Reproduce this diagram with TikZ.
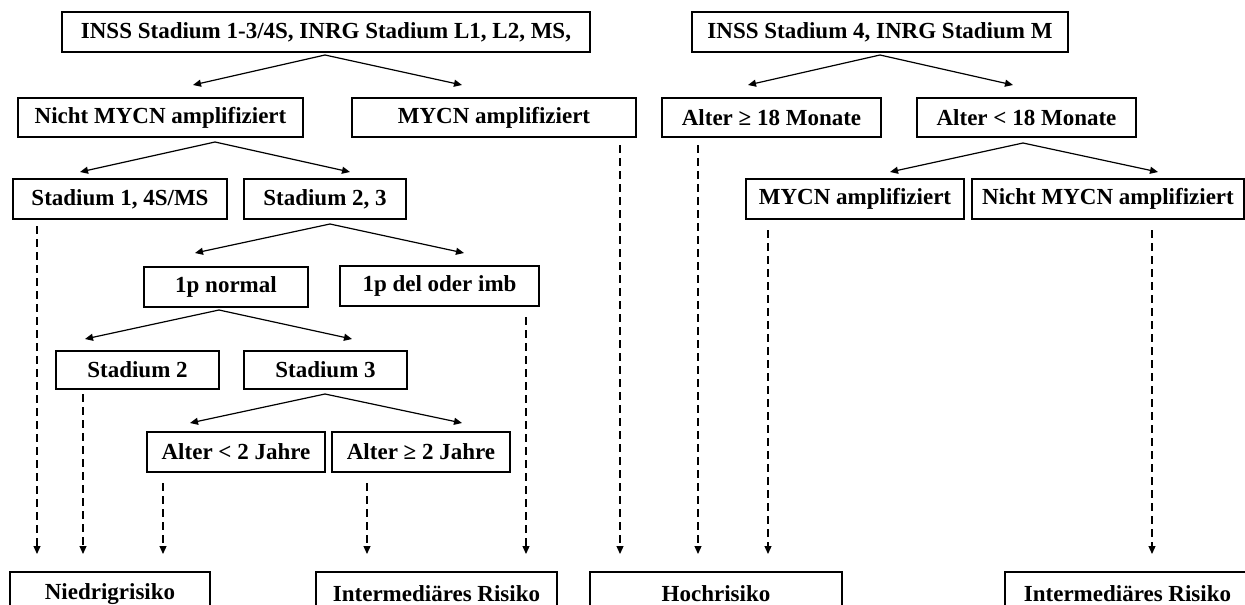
\documentclass[tikz,border=0pt]{standalone}
\usepackage{fontspec}
\setmainfont{Liberation Serif}
\usetikzlibrary{arrows.meta,calc}
\begin{document}
\begin{tikzpicture}[x=1pt,y=-1pt,
 box/.style={draw,line width=1.2pt,inner sep=0pt,font=\bfseries\fontsize{23}{26}\selectfont},
 arr/.style={-{Triangle[length=8pt,width=7pt]},line width=1.2pt},
 darr/.style={arr,dash pattern=on 8pt off 5pt}]
\useasboundingbox (0,0) rectangle (1245,605);
\clip (0,0) rectangle (1245,605);
% level 1
\node[box,minimum width=528pt,minimum height=40pt] (a) at (326,32) {INSS Stadium 1-3/4S, INRG Stadium L1, L2, MS,};
\node[box,minimum width=376pt,minimum height=40pt] (b) at (880,32) {INSS Stadium 4, INRG Stadium M};
% level 2
\node[box,minimum width=285pt,minimum height=39pt] (c) at (160.5,117.5) {Nicht MYCN amplifiziert};
\node[box,minimum width=284pt,minimum height=39pt] (d) at (494,117.5) {MYCN amplifiziert};
\node[box,minimum width=219pt,minimum height=39pt] (e) at (771.5,117.5) {Alter ≥ 18 Monate};
\node[box,minimum width=219pt,minimum height=39pt] (f) at (1026.5,117.5) {Alter < 18 Monate};
% level 3
\node[box,minimum width=214pt,minimum height=40pt] (g) at (120,199) {Stadium 1, 4S/MS};
\node[box,minimum width=162pt,minimum height=40pt] (h) at (325,199) {Stadium 2, 3};
\node[box,minimum width=218pt,minimum height=40pt] (i) at (855,199) {MYCN amplifiziert};
\node[box,minimum width=272pt,minimum height=40pt] (j) at (1108,199) {Nicht MYCN amplifiziert};
% level 4
\node[box,minimum width=164pt,minimum height=40pt] (k) at (226,287) {1p normal};
\node[box,minimum width=199pt,minimum height=40pt] (l) at (439.5,286) {1p del oder imb};
% level 5
\node[box,minimum width=163pt,minimum height=38pt] (m) at (137.5,370) {Stadium 2};
\node[box,minimum width=163pt,minimum height=38pt] (n) at (325.5,370) {Stadium 3};
% level 6
\node[box,minimum width=178pt,minimum height=40pt] (o) at (236,452) {Alter < 2 Jahre};
\node[box,minimum width=178pt,minimum height=40pt] (p) at (421,452) {Alter ≥ 2 Jahre};
% bottom
\node[box,minimum width=200pt,minimum height=44pt] (q) at (110,594) {Niedrigrisiko};
\node[box,minimum width=241pt,minimum height=44pt] (r) at (436.5,594) {Intermediäres Risiko};
\node[box,minimum width=252pt,minimum height=44pt] (s) at (716,594) {Hochrisiko};
\node[box,minimum width=245pt,minimum height=44pt] (t) at (1127.5,594) {Intermediäres Risiko};
% solid arrows
\coordinate (a0) at (325,55); \coordinate (c0) at (193,85); \coordinate (d0) at (462,85);
\draw[arr] (a0) -- (c0); \draw[arr] (a0) -- (d0);
\coordinate (b0) at (880,55); \coordinate (e0) at (748,85); \coordinate (f0) at (1013,85);
\draw[arr] (b0) -- (e0); \draw[arr] (b0) -- (f0);
\coordinate (c1) at (215,142); \coordinate (g0) at (80,172); \coordinate (h0) at (350,172);
\draw[arr] (c1) -- (g0); \draw[arr] (c1) -- (h0);
\coordinate (f1) at (1023,143); \coordinate (i0) at (890,172); \coordinate (j0) at (1158,172);
\draw[arr] (f1) -- (i0); \draw[arr] (f1) -- (j0);
\coordinate (h1) at (330,224); \coordinate (k0) at (195,253); \coordinate (l0) at (464,253);
\draw[arr] (h1) -- (k0); \draw[arr] (h1) -- (l0);
\coordinate (k1) at (219,310); \coordinate (m0) at (85,339); \coordinate (n0) at (352,339);
\draw[arr] (k1) -- (m0); \draw[arr] (k1) -- (n0);
\coordinate (n1) at (325,394); \coordinate (o0) at (190,423); \coordinate (p0) at (462,423);
\draw[arr] (n1) -- (o0); \draw[arr] (n1) -- (p0);
% dashed arrows
\foreach \x/\ys in {37/226,83/394,163/483,367/483,526/317,620/145,698/145,768/230,1152/230}{
  \coordinate (s\x) at (\x,\ys); \coordinate (e\x) at (\x,554);
  \draw[darr] (s\x) -- (e\x);
}
\end{tikzpicture}
\end{document}
